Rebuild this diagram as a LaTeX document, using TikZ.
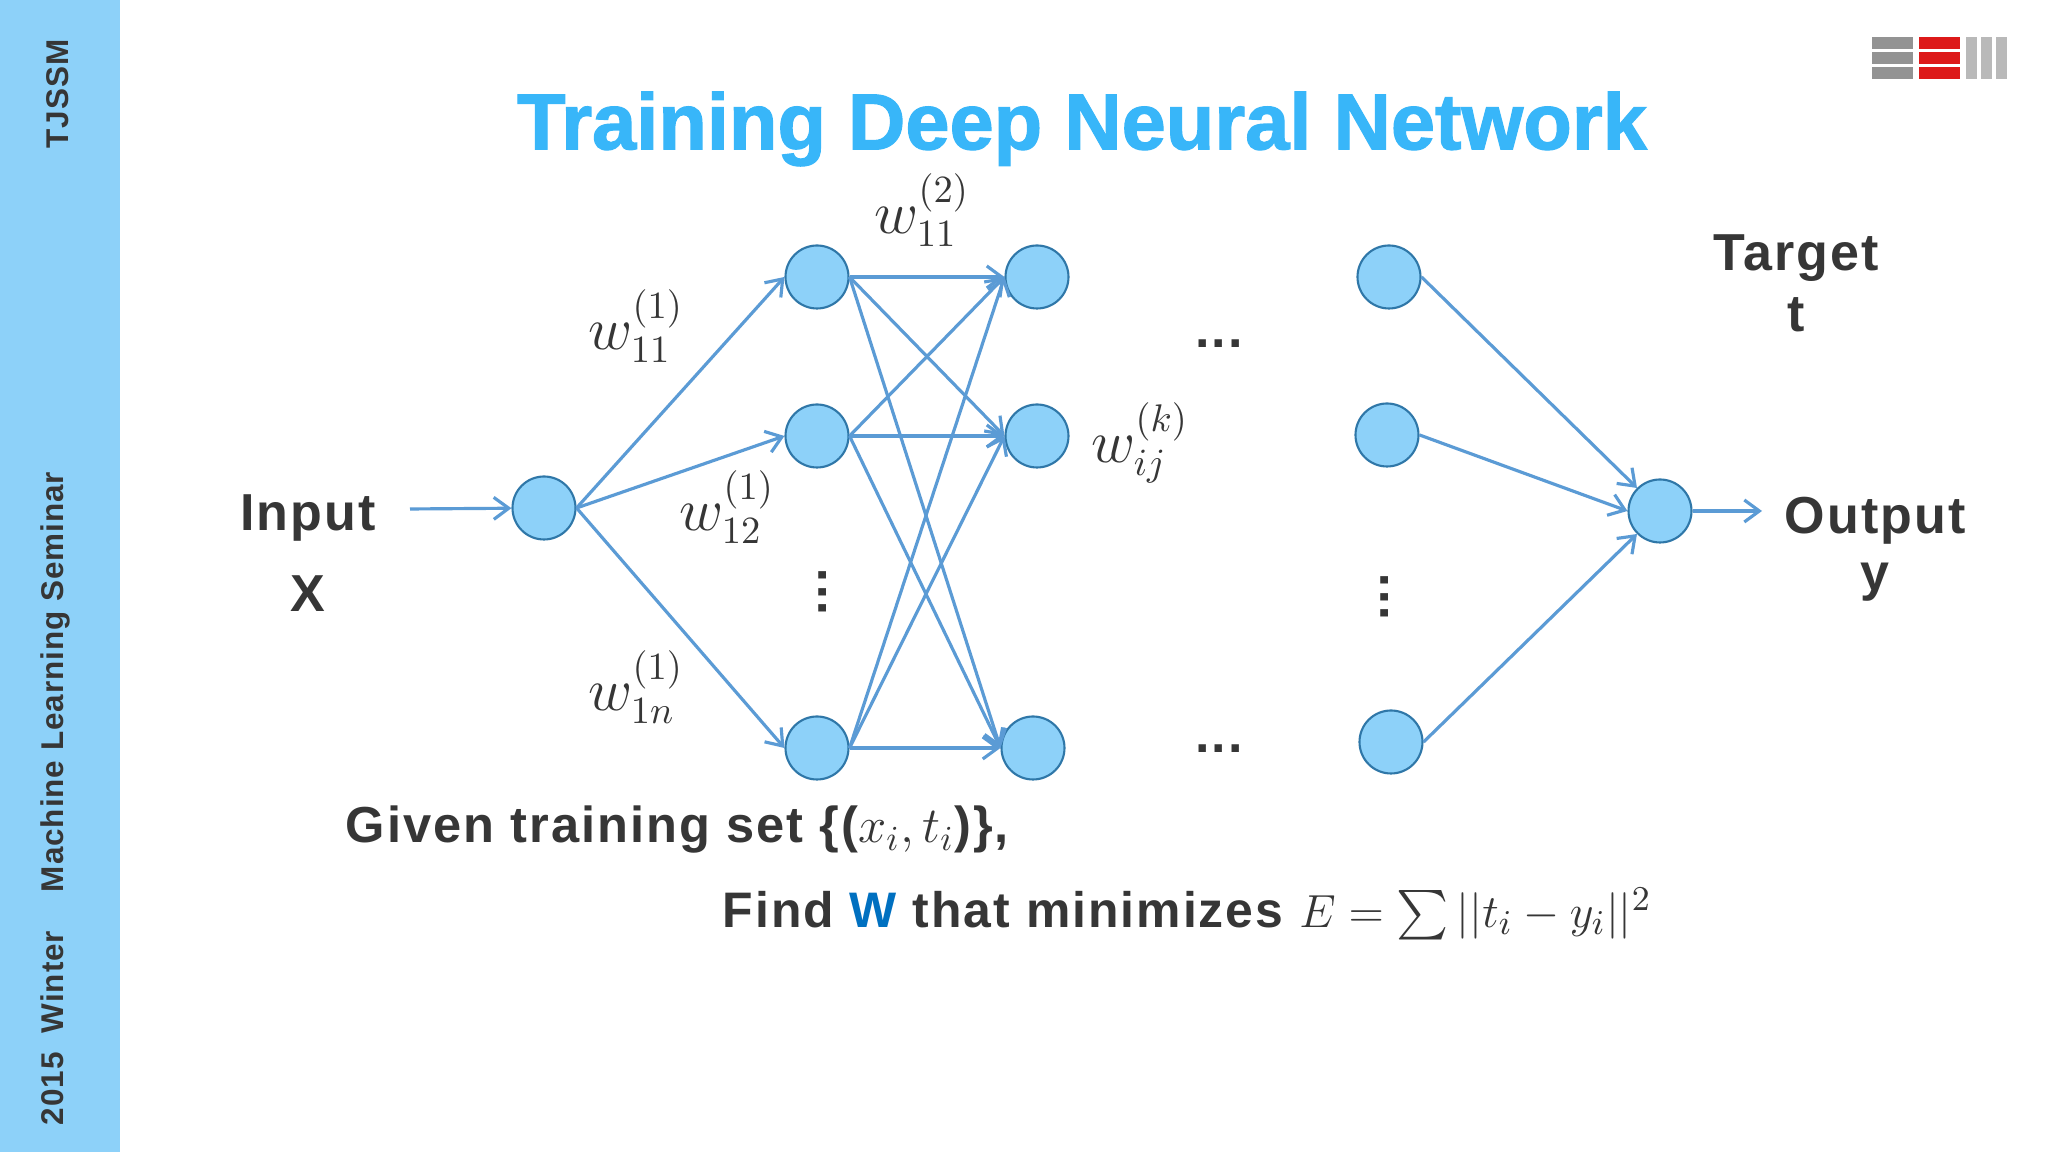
\documentclass[tikz,border=0pt]{standalone}
\usepackage{amsmath,amssymb}
\usepackage{fontspec}
\setmainfont{Liberation Sans}
\usepackage{tikz}
\usetikzlibrary{arrows.meta}
\usepackage{xcolor}
\definecolor{sidebar}{HTML}{8DD1F9}
\definecolor{titleblue}{HTML}{38B6F9}
\definecolor{edgeblue}{HTML}{5B9BD5}
\definecolor{ringblue}{HTML}{2F77A8}
\definecolor{inkgrey}{HTML}{363636}
\definecolor{wblue}{HTML}{0070C0}
\tikzset{
  neuron/.style={circle,draw=ringblue,line width=0.6pt,fill=sidebar,inner sep=0pt,minimum size=0.63cm},
  link/.style={->,edgeblue,line width=0.9pt},
  bigtext/.style={font=\fontsize{14.8}{16}\bfseries\addfontfeature{LetterSpace=4},text=inkgrey},
  linetext/.style={font=\fontsize{14.4}{16}\bfseries\addfontfeature{LetterSpace=4},text=inkgrey,anchor=west,inner sep=0pt},
  wlabel/.style={font=\fontsize{16}{18}\selectfont,text=inkgrey},
  sidetext/.style={font=\fontsize{8.95}{11}\bfseries\addfontfeature{LetterSpace=3},text=inkgrey,rotate=90}
}
\begin{document}
\begin{tikzpicture}[>={Straight Barb[length=1.5mm,width=2.2mm]}]
\useasboundingbox (0,0) rectangle (20.48,11.52);
\fill[white] (0,0) rectangle (20.48,11.52);
\fill[sidebar] (0,0) rectangle (1.2,11.52);
\node[sidetext] (brand) at (0.58,10.58) {TJSSM};
\node[sidetext,anchor=west,inner sep=0pt] (seminar) at (0.55,0.26) {2015 \ Winter \ \ \ Machine Learning Seminar};
\node[font=\fontsize{22.6}{24}\bfseries\addfontfeature{FakeBold=1.5},text=titleblue] (title) at (10.82,10.23) {Training Deep Neural Network};
% logo
\foreach \y in {10.73,10.88,11.03} {
  \fill[gray!85] (18.72,\y) rectangle (19.13,\y+0.12);
  \fill[red!85!black!90] (19.19,\y) rectangle (19.60,\y+0.12);
}
\foreach \x in {19.66,19.81,19.96} \fill[gray!55] (\x,10.73) rectangle (\x+0.11,11.15);
% neurons
\node[neuron] (in) at (5.44,6.44) {};
\node[neuron] (h1a) at (8.17,8.75) {};
\node[neuron] (h1b) at (8.17,7.16) {};
\node[neuron] (h1c) at (8.17,4.04) {};
\node[neuron] (h2a) at (10.37,8.75) {};
\node[neuron] (h2b) at (10.37,7.16) {};
\node[neuron] (h2c) at (10.33,4.04) {};
\node[neuron] (la) at (13.89,8.75) {};
\node[neuron] (lb) at (13.87,7.17) {};
\node[neuron] (lc) at (13.91,4.10) {};
\node[neuron] (out) at (16.60,6.41) {};
\coordinate (instart) at (4.10,6.43);
\coordinate (outend) at (17.62,6.41);
% links
\draw[link] (instart) -- (in);
\draw[link] (out) -- (outend);
\foreach \b in {h1a,h1b,h1c} {
  \draw[link] (in.east) -- (\b.west);
  \foreach \c in {h2a,h2b,h2c} \draw[link] (\b.east) -- (\c.west);
}
\draw[link] (la.east) -- (out.north west);
\draw[link] (lb.east) -- (out.west);
\draw[link] (lc.east) -- (out.south west);
% labels
\node[bigtext] (input) at (3.08,6.34) {Input};
\node[bigtext] (xvec) at (3.08,5.58) {X};
\node[bigtext] (target) at (17.96,8.94) {Target};
\node[bigtext] (tvec) at (17.96,8.37) {t};
\node[bigtext] (output) at (18.75,6.31) {Output};
\node[bigtext] (yvec) at (18.75,5.70) {y};
\node[wlabel] (w1) at (6.36,8.26) {$w_{11}^{(1)}$};
\node[wlabel] (w2) at (7.27,6.45) {$w_{12}^{(1)}$};
\node[wlabel] (w3) at (6.36,4.65) {$w_{1n}^{(1)}$};
\node[wlabel] (w4) at (9.22,9.42) {$w_{11}^{(2)}$};
\node[wlabel] (w5) at (11.40,7.09) {$w_{ij}^{(k)}$};
\node[bigtext] (dotsa) at (12.19,8.08) {...};
\node[bigtext] (dotsb) at (12.19,4.03) {...};
\node[bigtext,rotate=90] (dotsc) at (8.23,5.60) {...};
\node[bigtext,rotate=90] (dotsd) at (13.85,5.55) {...};
\node[linetext] (given) at (3.45,3.22) {Given training set \{($x_i,t_i$)\},};
\node[linetext,font=\fontsize{14.2}{16}\bfseries\addfontfeature{LetterSpace=4}] (find) at (7.22,2.38) {Find \textcolor{wblue}{W} that minimizes {\mdseries\fontsize{12.8}{16}\selectfont \scalebox{1.1}{$E=\sum||t_i-y_i||^2$}}};
\end{tikzpicture}
\end{document}
